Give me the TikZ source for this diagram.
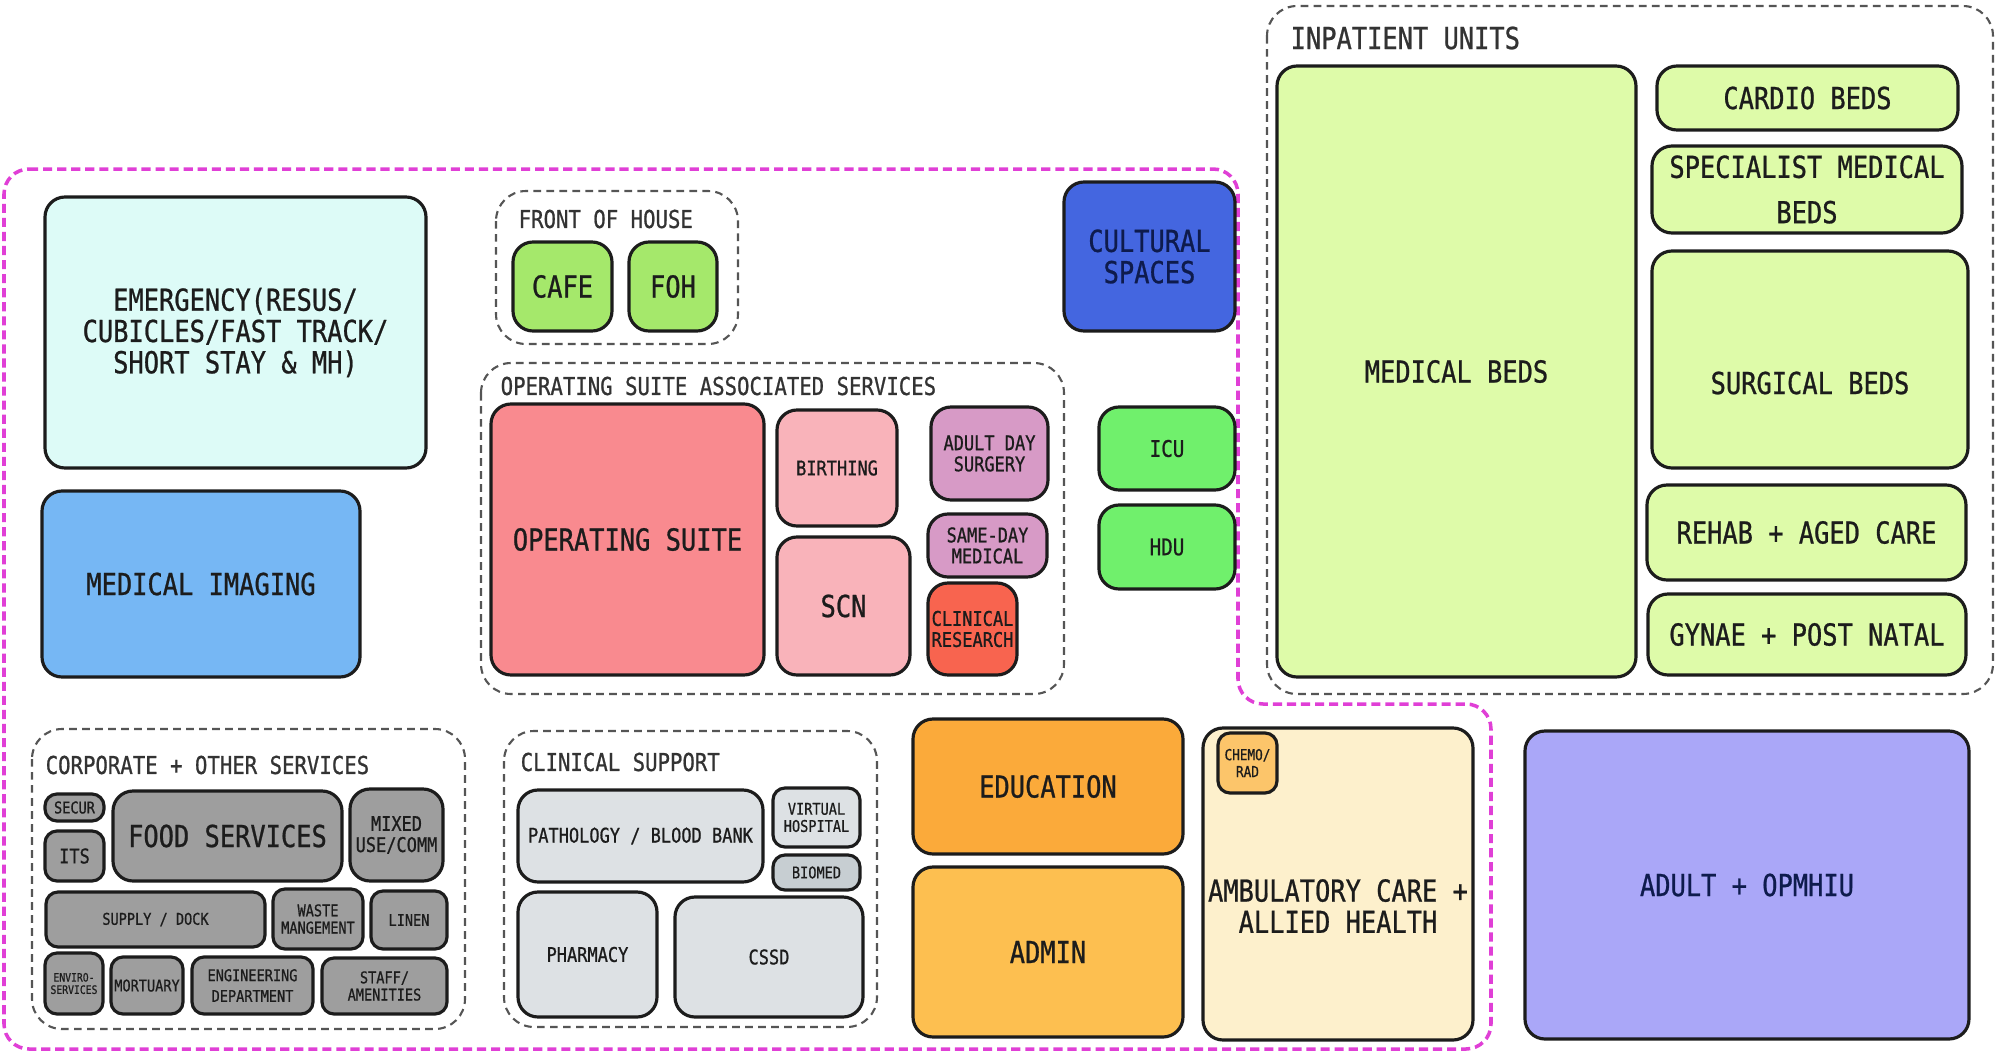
\documentclass[tikz,border=0pt]{standalone}
\usepackage{fontspec}
\newfontfamily\planfont[FakeStretch=0.84, FakeBold=0.8]{DejaVu Sans Mono}

\definecolor{emergc}{HTML}{DDFBF7}
\definecolor{imagc}{HTML}{76B7F4}
\definecolor{fohc}{HTML}{A5E86B}
\definecolor{cultc}{HTML}{4466E0}
\definecolor{icuc}{HTML}{70F06C}
\definecolor{opc}{HTML}{F98A8F}
\definecolor{birthc}{HTML}{F9B3BA}
\definecolor{dayc}{HTML}{D79AC6}
\definecolor{resc}{HTML}{F8644F}
\definecolor{bedc}{HTML}{DEFBA9}
\definecolor{educ}{HTML}{FBAA3A}
\definecolor{adminc}{HTML}{FDBF50}
\definecolor{ambc}{HTML}{FDF0CC}
\definecolor{chemoc}{HTML}{FCC56A}
\definecolor{opmc}{HTML}{AAA7F8}
\definecolor{corpc}{HTML}{9E9E9E}
\definecolor{clinc}{HTML}{DDE1E4}
\definecolor{biomedc}{HTML}{C7CED2}
\definecolor{magc}{HTML}{E03FD6}
\definecolor{grpc}{HTML}{555555}
\definecolor{inkc}{HTML}{1C1C1C}
\definecolor{navyc}{HTML}{0E1B4D}

\begin{document}
\begin{tikzpicture}[
    room/.style={draw=inkc, line width=0.9pt, rounded corners=0.2cm, inner sep=0pt, align=center, text=inkc},
    sroom/.style={room, rounded corners=0.12cm},
    grp/.style={draw=grpc, line width=0.6pt, dash pattern=on 2.2pt off 1.5pt, rounded corners=0.3cm},
    grplab/.style={anchor=west, inner sep=0pt, text=black!80, font=\planfont\fontsize{7pt}{7.3pt}\selectfont},
    txtbig/.style={font=\planfont\fontsize{8.6pt}{8.9pt}\selectfont},
    txticu/.style={font=\planfont\fontsize{6.5pt}{6.8pt}\selectfont},
    txtmid/.style={font=\planfont\fontsize{5.75pt}{6pt}\selectfont},
    txtsmall/.style={font=\planfont\fontsize{4.6pt}{4.9pt}\selectfont},
    txttiny/.style={font=\planfont\fontsize{3.3pt}{3.5pt}\selectfont},
]
% Page (1996 x 1053 px, 1 px = 0.01 cm)
\useasboundingbox[fill=white] (0,0) rectangle (19.96,-10.53);

% Hospital boundary (magenta)
\draw[magc, line width=1pt, dash pattern=on 2.6pt off 1.4pt, rounded corners=0.25cm]
    (0.04,-1.69) -- (12.38,-1.69) -- (12.38,-7.04) -- (14.91,-7.04) -- (14.91,-10.49) -- (0.04,-10.49) -- cycle;

% Groups
\draw[grp] (4.96,-1.91) rectangle (7.38,-3.44);
\draw[grp] (4.81,-3.63) rectangle (10.64,-6.94);
\draw[grp] (12.67,-0.06) rectangle (19.93,-6.94);
\draw[grp] (0.32,-7.29) rectangle (4.65,-10.29);
\draw[grp] (5.04,-7.31) rectangle (8.77,-10.27);

\node[grplab] (fohlab) at (5.18,-2.19) {FRONT OF HOUSE};
\node[grplab] (opslab) at (5.00,-3.86) {OPERATING SUITE ASSOCIATED SERVICES};
\node[grplab, txtbig] (iplab) at (12.90,-0.38) {INPATIENT UNITS};
\node[grplab] (corplab) at (0.45,-7.65) {CORPORATE + OTHER SERVICES};
\node[grplab] (cslab) at (5.20,-7.62) {CLINICAL SUPPORT};

% Emergency + imaging
\node[room, txtbig, fill=emergc, minimum width=3.81cm, minimum height=2.71cm] (emerg) at (2.355,-3.325) {EMERGENCY(RESUS/\\CUBICLES/FAST TRACK/\\SHORT STAY \& MH)};
\node[room, txtbig, fill=imagc, minimum width=3.18cm, minimum height=1.86cm] (imag) at (2.01,-5.84) {MEDICAL IMAGING};

% Front of house
\node[room, txtbig, fill=fohc, minimum width=0.99cm, minimum height=0.89cm] (cafe) at (5.625,-2.865) {CAFE};
\node[room, txtbig, fill=fohc, minimum width=0.88cm, minimum height=0.89cm] (foh) at (6.73,-2.865) {FOH};
\node[room, txtbig, fill=cultc, text=navyc, minimum width=1.71cm, minimum height=1.49cm] (cult) at (11.495,-2.565) {CULTURAL\\SPACES};

% Operating suite associated services
\node[room, txtbig, fill=opc, minimum width=2.73cm, minimum height=2.71cm] (opsuite) at (6.275,-5.395) {OPERATING SUITE};
\node[room, txtmid, fill=birthc, minimum width=1.20cm, minimum height=1.16cm] (birth) at (8.37,-4.68) {BIRTHING};
\node[room, txtbig, fill=birthc, minimum width=1.33cm, minimum height=1.38cm] (scn) at (8.435,-6.06) {SCN};
\node[room, txtmid, fill=dayc, minimum width=1.17cm, minimum height=0.93cm] (dsurg) at (9.895,-4.535) {ADULT DAY\\SURGERY};
\node[room, txtmid, fill=dayc, minimum width=1.19cm, minimum height=0.63cm] (sameday) at (9.875,-5.455) {SAME-DAY\\MEDICAL};
\node[room, txtmid, fill=resc, minimum width=0.89cm, minimum height=0.92cm] (clinres) at (9.725,-6.29) {CLINICAL\\RESEARCH};

% ICU / HDU
\node[room, txticu, fill=icuc, minimum width=1.36cm, minimum height=0.83cm] (icu) at (11.67,-4.485) {ICU};
\node[room, txticu, fill=icuc, minimum width=1.36cm, minimum height=0.84cm] (hdu) at (11.67,-5.47) {HDU};

% Inpatient units
\node[room, txtbig, fill=bedc, minimum width=3.59cm, minimum height=6.11cm] (medbeds) at (14.565,-3.715) {MEDICAL BEDS};
\node[room, txtbig, fill=bedc, minimum width=3.01cm, minimum height=0.64cm] (cardio) at (18.075,-0.98) {CARDIO BEDS};
\node[room, txtbig, fill=bedc, minimum width=3.10cm, minimum height=0.87cm] (specmed) at (18.07,-1.895) {SPECIALIST MEDICAL\\[4pt]BEDS};
\node[room, fill=bedc, minimum width=3.16cm, minimum height=2.17cm] (surg) at (18.10,-3.595) {};
\node[txtbig, text=inkc] (surgtxt) at (18.10,-3.83) {SURGICAL BEDS};
\node[room, txtbig, fill=bedc, minimum width=3.19cm, minimum height=0.95cm] (rehab) at (18.065,-5.325) {REHAB + AGED CARE};
\node[room, txtbig, fill=bedc, minimum width=3.18cm, minimum height=0.81cm] (gynae) at (18.07,-6.345) {GYNAE + POST NATAL};

% Education, admin, ambulatory
\node[room, txtbig, fill=educ, minimum width=2.70cm, minimum height=1.35cm] (edu) at (10.48,-7.865) {EDUCATION};
\node[room, txtbig, fill=adminc, minimum width=2.70cm, minimum height=1.70cm] (admin) at (10.48,-9.52) {ADMIN};
\node[room, fill=ambc, minimum width=2.70cm, minimum height=3.12cm] (ambul) at (13.38,-8.84) {};
\node[txtbig, text=inkc, align=center] (ambultxt) at (13.38,-9.06) {AMBULATORY CARE +\\ALLIED HEALTH};
\node[sroom, txttiny, font=\planfont\fontsize{4.3pt}{4.8pt}\selectfont, fill=chemoc, minimum width=0.59cm, minimum height=0.60cm] (chemo) at (12.475,-7.63) {CHEMO/\\RAD};
\node[room, txtbig, fill=opmc, text=navyc, minimum width=4.44cm, minimum height=3.08cm] (opmhiu) at (17.47,-8.85) {ADULT + OPMHIU};

% Corporate + other services
\node[sroom, txtsmall, fill=corpc, minimum width=0.59cm, minimum height=0.27cm] (secur) at (0.745,-8.075) {SECUR};
\node[sroom, txtmid, fill=corpc, minimum width=0.59cm, minimum height=0.50cm] (its) at (0.745,-8.56) {ITS};
\node[room, txtbig, fill=corpc, minimum width=2.29cm, minimum height=0.90cm] (food) at (2.275,-8.36) {FOOD SERVICES};
\node[room, txtmid, fill=corpc, minimum width=0.93cm, minimum height=0.92cm] (mixed) at (3.965,-8.35) {MIXED\\USE/COMM};
\node[sroom, txtsmall, fill=corpc, minimum width=2.19cm, minimum height=0.55cm] (supply) at (1.555,-9.195) {SUPPLY / DOCK};
\node[sroom, txtsmall, fill=corpc, minimum width=0.90cm, minimum height=0.60cm] (waste) at (3.18,-9.19) {WASTE\\MANGEMENT};
\node[sroom, txtsmall, fill=corpc, minimum width=0.76cm, minimum height=0.58cm] (linen) at (4.09,-9.20) {LINEN};
\node[sroom, txttiny, fill=corpc, minimum width=0.58cm, minimum height=0.61cm] (enviro) at (0.74,-9.835) {ENVIRO-\\SERVICES};
\node[sroom, txtsmall, fill=corpc, minimum width=0.72cm, minimum height=0.57cm] (mortuary) at (1.47,-9.855) {MORTUARY};
\node[sroom, txtsmall, fill=corpc, minimum width=1.21cm, minimum height=0.57cm] (engdept) at (2.525,-9.855) {ENGINEERING\\[1pt]DEPARTMENT};
\node[sroom, txtsmall, fill=corpc, minimum width=1.25cm, minimum height=0.56cm] (staff) at (3.845,-9.86) {STAFF/\\AMENITIES};

% Clinical support
\node[room, txtmid, fill=clinc, minimum width=2.45cm, minimum height=0.92cm] (path) at (6.405,-8.36) {PATHOLOGY / BLOOD BANK};
\node[sroom, txtsmall, fill=clinc, minimum width=0.87cm, minimum height=0.59cm] (virtual) at (8.165,-8.175) {VIRTUAL\\HOSPITAL};
\node[sroom, txtsmall, fill=biomedc, minimum width=0.87cm, minimum height=0.35cm] (biomed) at (8.165,-8.725) {BIOMED};
\node[room, txtmid, fill=clinc, minimum width=1.39cm, minimum height=1.25cm] (pharm) at (5.875,-9.545) {PHARMACY};
\node[room, txtmid, fill=clinc, minimum width=1.88cm, minimum height=1.20cm] (cssd) at (7.69,-9.57) {CSSD};
\end{tikzpicture}
\end{document}
